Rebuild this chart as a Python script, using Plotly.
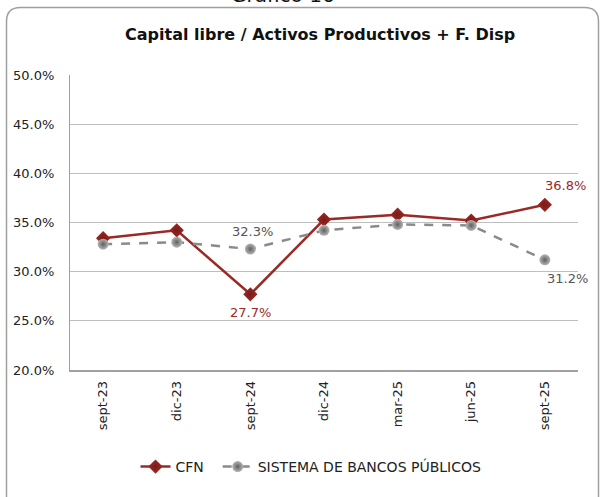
import plotly.graph_objects as go

categories = ["sept-23", "dic-23", "sept-24", "dic-24", "mar-25", "jun-25", "sept-25"]
cfn = [33.4, 34.2, 27.7, 35.3, 35.8, 35.2, 36.8]
bancos = [32.8, 33.0, 32.3, 34.2, 34.8, 34.7, 31.2]
y_ticks = [20, 25, 30, 35, 40, 45, 50]
y_tick_labels = ["20.0%", "25.0%", "30.0%", "35.0%", "40.0%", "45.0%", "50.0%"]

W, H = 600, 497
L, R, T, B = 70, 22, 75, 127
pw, ph = W - L - R, H - T - B

def px(x):
    return (x - L) / pw

def py(y):
    return (H - B - y) / ph

FONT = "DejaVu Sans"
RED = "#9A2A25"
GRAY = "#8A8A8A"

fig = go.Figure()
fig.add_trace(go.Scatter(
    x=categories, y=cfn, name="CFN\u00a0\u00a0", mode="lines+markers",
    line=dict(color=RED, width=2.5),
    marker=dict(symbol="diamond", size=11, color=RED,
                gradient=dict(type="radial", color="#7A1A16"))
))
fig.add_trace(go.Scatter(
    x=categories, y=bancos, name="SISTEMA DE BANCOS PÚBLICOS", mode="lines+markers",
    line=dict(color=GRAY, width=2.5, dash="dash"),
    marker=dict(symbol="circle", size=11, color="#B5B5B5",
                gradient=dict(type="radial", color="#606060"))
))

# data labels
labels = [
    (categories[2], cfn[2], RED, 0, 18),
    (categories[6], cfn[6], RED, 21, -19),
    (categories[2], bancos[2], "#555555", 2, -18),
    (categories[6], bancos[6], "#555555", 23, 19),
]
for xc, yv, col, dx, dy in labels:
    fig.add_annotation(x=xc, y=yv, text=f"{yv:.1f}%", showarrow=False,
                       xshift=dx, yshift=-dy, font=dict(family=FONT, size=13, color=col))

# rounded border
x0, y0, x1, y1, r = 6.5, 7.5, 598.5, 510, 14
path = (f"M {px(x0)},{py(y0 + r)} L {px(x0)},{py(y1)} "
        f"M {px(x0)},{py(y0 + r)} Q {px(x0)},{py(y0)} {px(x0 + r)},{py(y0)} "
        f"L {px(x1 - r)},{py(y0)} Q {px(x1)},{py(y0)} {px(x1)},{py(y0 + r)} L {px(x1)},{py(y1)}")
fig.add_shape(type="path", xref="paper", yref="paper", path=path,
              line=dict(color="#A0A0A0", width=1.5))

fig.add_annotation(xref="paper", yref="paper", x=px(283), y=py(-5), text="Gráfico 16",
                   showarrow=False, font=dict(family=FONT, size=20, color="#111111"),
                   xanchor="center", yanchor="middle")
fig.add_annotation(xref="paper", yref="paper", x=px(320), y=py(35), text="<b>Capital libre / Activos Productivos + F. Disp</b>",
                   showarrow=False, font=dict(family=FONT, size=16, color="#111111"),
                   xanchor="center", yanchor="middle")

fig.update_layout(
    width=W, height=H, margin=dict(l=L, r=R, t=T, b=B),
    paper_bgcolor="white", plot_bgcolor="white",
    font=dict(family=FONT, size=13, color="#222222"),
    showlegend=True,
    legend=dict(orientation="h", x=px(311), xanchor="center", y=py(467), yanchor="middle",
                font=dict(family=FONT, size=14, color="#222222"),
                entrywidth=0, tracegroupgap=0),
    xaxis=dict(type="category", tickangle=-90, showgrid=False, showline=True,
               linecolor="#A0A0A0", linewidth=1.5, ticks="", range=[-0.45, 6.45],
               ticklabelstandoff=4,
               tickfont=dict(family=FONT, size=13, color="#222222")),
    yaxis=dict(range=[20, 50], tickvals=y_ticks, ticktext=y_tick_labels,
               showgrid=True, gridcolor="#BEBEBE", gridwidth=1.2, showline=True,
               linecolor="#A0A0A0", linewidth=1.2, ticks="", zeroline=False,
               ticklabelstandoff=12,
               tickfont=dict(family=FONT, size=13, color="#222222")),
)

fig.write_html("out.html", config={"displayModeBar": False},
               post_script="document.body.style.margin='0';")
